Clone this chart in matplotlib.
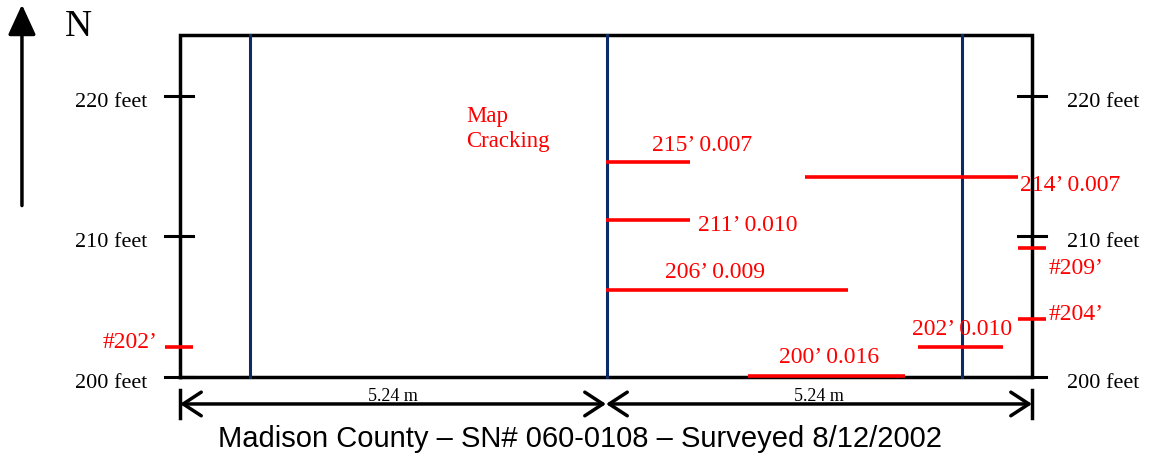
import matplotlib.pyplot as plt

# survey layout (x in metres across the road, y in feet along it)
lane_width = 5.24
slab_top = 224.34
lane_lines = [0.86, 5.25, 9.62]
feet_ticks = [200, 210, 220]

# transverse cracks: station (ft), start/end (m), width (in)
crack_ft = [215.3, 214.2, 211.2, 206.2, 202.1, 200.1]
crack_start = [5.24, 7.69, 5.24, 5.24, 9.08, 6.99]
crack_end = [6.27, 10.31, 6.27, 8.22, 10.12, 8.92]
crack_station = ["215", "214", "211", "206", "202", "200"]
crack_width = ["0.007", "0.007", "0.010", "0.009", "0.010", "0.016"]
label_xy = [(5.81, 216.5), (10.33, 213.65), (6.37, 210.75),
            (5.97, 207.45), (9.0, 203.35), (7.37, 201.42)]

# core / sample markers
marker_ft = [202.1, 209.2, 204.1]
marker_side = ["left", "right", "right"]

red = "#ff0000"
navy = "#0b2a66"
serif = "Liberation Serif"

fig = plt.figure(figsize=(11.54, 4.62), dpi=100)
ax = fig.add_axes([0, 0, 1, 1])
ax.set_xlim(-2.214, 11.98)
ax.set_ylim(193.95, 226.83)
ax.axis("off")

right_edge = 2 * lane_width

# slab outline
ax.plot([0, right_edge, right_edge, 0, 0], [200, 200, slab_top, slab_top, 200],
        color="black", lw=2.5, solid_joinstyle="miter")
for x in lane_lines:
    ax.plot([x, x], [200, slab_top], color=navy, lw=2.2)

# feet ticks and labels
for f in feet_ticks:
    ax.plot([-0.185, 0.16], [f, f], color="black", lw=2.2)
    ax.plot([right_edge - 0.17, right_edge + 0.17], [f, f], color="black", lw=2.2)
    ax.text(-0.4, f - 0.45, f"{f} feet", ha="right", va="center",
            family=serif, fontsize=16)
    ax.text(right_edge + 0.43, f - 0.45, f"{f} feet", ha="left", va="center",
            family=serif, fontsize=16)

# cracks
for y, x0, x1, st, w, (lx, ly) in zip(crack_ft, crack_start, crack_end,
                                      crack_station, crack_width, label_xy):
    ax.plot([x0, x1], [y, y], color=red, lw=2.6, solid_capstyle="butt")
    ax.text(lx, ly, f"{st}\u2019 {w}", ha="left", va="center", color=red,
            family=serif, fontsize=17)

# markers
for y, side in zip(marker_ft, marker_side):
    if side == "left":
        ax.plot([-0.185, 0.16], [y, y], color=red, lw=2.6, solid_capstyle="butt")
        ax.text(-0.28, y + 0.32, f"#{round(y)}\u2019", ha="right", va="center",
                color=red, family=serif, fontsize=17)
    else:
        ax.plot([right_edge - 0.17, right_edge + 0.17], [y, y], color=red, lw=2.6,
                solid_capstyle="butt")
        dy = -1.45 if y > 207 else 0.38
        ax.text(right_edge + 0.2, y + dy, f"#{round(y)}\u2019", ha="left",
                va="center", color=red, family=serif, fontsize=17)

ax.text(3.52, 217.65, "Map\nCracking", ha="left", va="center", color=red,
        family=serif, fontsize=16.5, linespacing=1.3)

# dimension arrows
dim_y = 198.08
for x0 in [0, lane_width]:
    ax.annotate("", xy=(x0, dim_y), xytext=(x0 + lane_width, dim_y),
                arrowprops=dict(arrowstyle="<->,head_length=1.3,head_width=0.85",
                                color="black", lw=2.5, shrinkA=0, shrinkB=0))
    ax.text(x0 + lane_width / 2, dim_y + 0.2, f"{lane_width} m", ha="center",
            va="baseline", family=serif, fontsize=13)
for x in [0, right_edge]:
    ax.plot([x, x], [197.08, 199.07], color="black", lw=2.5)

# north arrow
ax.annotate("", xy=(-1.944, 226.5), xytext=(-1.944, 212.2),
            arrowprops=dict(arrowstyle="-|>,head_length=1.85,head_width=0.85",
                            color="black", lw=2.5, shrinkA=0, shrinkB=0))
ax.text(-1.255, 224.9, "N", ha="center", va="center", family=serif, fontsize=27)

ax.text(4.92, 195.6, "Madison County \u2013 SN# 060-0108 \u2013 Surveyed 8/12/2002",
        ha="center", va="center", family="Liberation Sans", fontsize=21)

fig.savefig("out.png", dpi=100)
